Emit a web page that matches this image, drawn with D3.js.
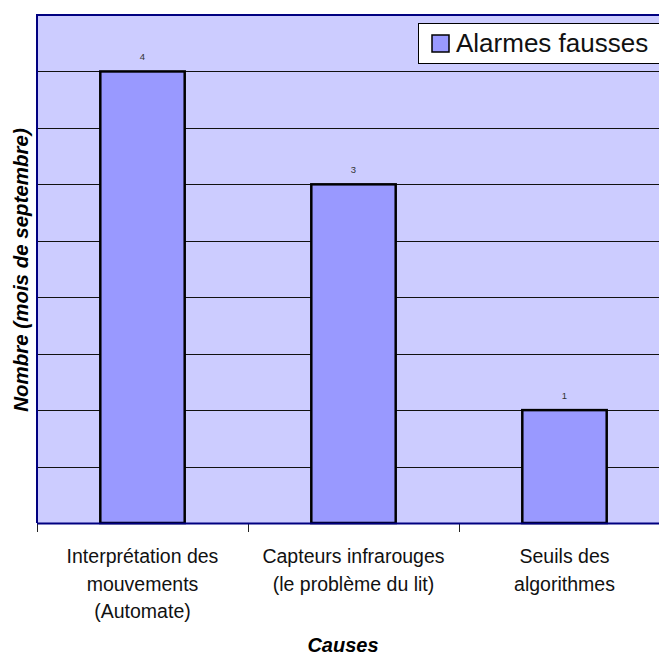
<!DOCTYPE html>
<html>
<head>
<meta charset="utf-8">
<script src="https://cdn.jsdelivr.net/npm/d3@7"></script>
<style>
  html, body { margin: 0; padding: 0; background: #fff; }
  svg { display: block; font-family: "Liberation Sans", Arial, sans-serif; }
</style>
</head>
<body>
<svg id="chart" width="659" height="655"></svg>
<script>
// Categories (multi-line labels) and counts of false alarms
const categories = [
  ["Interprétation des", "mouvements", "(Automate)"],
  ["Capteurs infrarouges", "(le problème du lit)"],
  ["Seuils des", "algorithmes"]
];
const values = [4, 3, 1];
const seriesName = "Alarmes fausses";
const gridTicks = [0.5, 1, 1.5, 2, 2.5, 3, 3.5, 4];

const svg = d3.select("#chart");
const plot = { left: 37, right: 670, top: 15, bottom: 523 };

const keys = categories.map(c => c.join(" "));
const x = d3.scaleBand()
  .domain(keys)
  .range([plot.left, plot.right])
  .paddingInner(0.6)
  .paddingOuter(0.3);
const y = d3.scaleLinear().domain([0, 4.5]).range([plot.bottom, plot.top]);

// plot background
svg.append("rect")
  .attr("x", plot.left).attr("y", plot.top)
  .attr("width", plot.right - plot.left).attr("height", plot.bottom - plot.top)
  .attr("fill", "#ccccff");

// horizontal gridlines
svg.append("g").selectAll("line").data(gridTicks).join("line")
  .attr("x1", plot.left).attr("x2", plot.right)
  .attr("y1", d => Math.round(y(d)) + 0.5).attr("y2", d => Math.round(y(d)) + 0.5)
  .attr("stroke", "#111").attr("stroke-width", 1);

// bars
svg.append("g").selectAll("rect").data(values).join("rect")
  .attr("x", (d, i) => x(keys[i]))
  .attr("y", d => y(d))
  .attr("width", x.bandwidth())
  .attr("height", d => y(0) - y(d))
  .attr("fill", "#9999ff")
  .attr("stroke", "#000").attr("stroke-width", 2.5);

// value labels above bars
svg.append("g").selectAll("text").data(values).join("text")
  .attr("x", (d, i) => x(keys[i]) + x.bandwidth() / 2)
  .attr("y", d => y(d) - 11)
  .attr("text-anchor", "middle")
  .attr("font-size", 9.5).attr("fill", "#333")
  .text(d => d);

// plot border (left and top)
svg.append("path")
  .attr("d", `M${plot.left},${plot.bottom} V${plot.top} H${plot.right}`)
  .attr("fill", "none").attr("stroke", "#000080").attr("stroke-width", 2);

// x axis line with category-boundary ticks
const bounds = d3.range(keys.length + 1).map(i => plot.left + i * x.step());
svg.append("g").selectAll("line").data(bounds).join("line")
  .attr("x1", d => Math.round(d) + 0.5).attr("x2", d => Math.round(d) + 0.5)
  .attr("y1", plot.bottom).attr("y2", plot.bottom + 9)
  .attr("stroke", "#222").attr("stroke-width", 1);
svg.append("line")
  .attr("x1", plot.left).attr("x2", plot.right)
  .attr("y1", plot.bottom + 0.5).attr("y2", plot.bottom + 0.5)
  .attr("stroke", "#000080").attr("stroke-width", 2);

// category labels
const catLabels = svg.append("g").selectAll("text").data(categories).join("text")
  .attr("x", (d, i) => x(keys[i]) + x.bandwidth() / 2)
  .attr("y", 563)
  .attr("text-anchor", "middle")
  .attr("font-size", 19.5).attr("fill", "#111");
catLabels.selectAll("tspan").data(d => d).join("tspan")
  .attr("x", function () { return d3.select(this.parentNode).attr("x"); })
  .attr("dy", (d, i) => i === 0 ? 0 : 27.5)
  .text(d => d);

// axis titles
svg.append("text")
  .attr("x", 343).attr("y", 652)
  .attr("text-anchor", "middle")
  .attr("font-size", 20).attr("font-weight", "bold").attr("font-style", "italic")
  .text("Causes");
svg.append("text")
  .attr("transform", "translate(28,270) rotate(-90)")
  .attr("text-anchor", "middle")
  .attr("font-size", 20.5).attr("font-weight", "bold").attr("font-style", "italic")
  .text("Nombre (mois de septembre)");

// legend
const legend = svg.append("g");
legend.append("rect")
  .attr("x", 418.5).attr("y", 23.5).attr("width", 300).attr("height", 40)
  .attr("fill", "#fff").attr("stroke", "#000").attr("stroke-width", 1);
legend.append("rect")
  .attr("x", 432).attr("y", 35).attr("width", 17).attr("height", 17)
  .attr("fill", "#9999ff").attr("stroke", "#000").attr("stroke-width", 1.5);
legend.append("text")
  .attr("x", 456).attr("y", 52)
  .attr("font-size", 26).attr("fill", "#111")
  .text(seriesName);
</script>
</body>
</html>
